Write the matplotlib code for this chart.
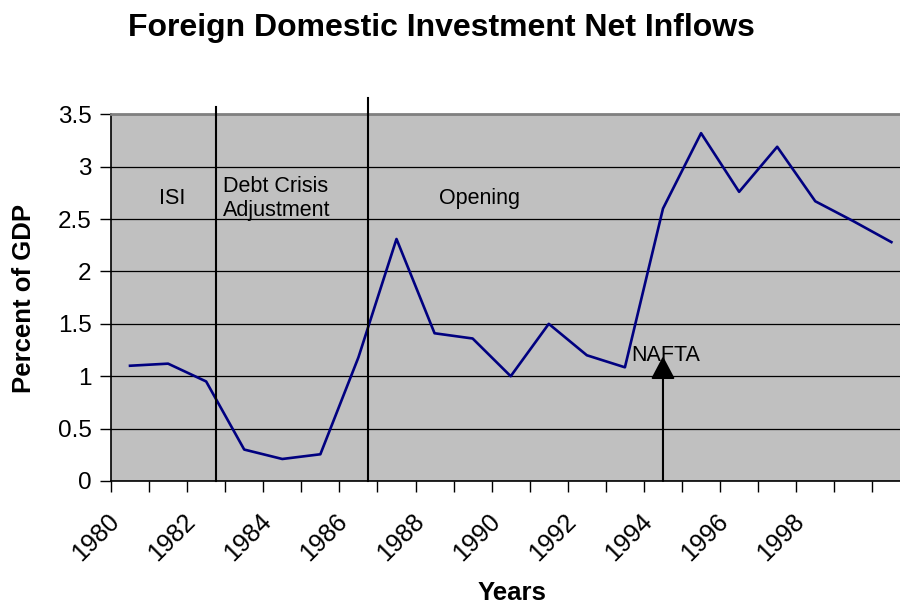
import matplotlib
matplotlib.use("Agg")
import matplotlib.pyplot as plt
from matplotlib import transforms

plt.rcParams['font.family'] = ['Liberation Sans', 'DejaVu Sans']

# Datos (% del PIB)
years = list(range(1980, 2001))
fdi = [1.10, 1.12, 0.95, 0.30, 0.21, 0.255, 1.18, 2.31, 1.41, 1.36,
       1.00, 1.50, 1.20, 1.085, 2.60, 3.32, 2.76, 3.19, 2.67, 2.48, 2.28]
year_labels = [str(y) for y in years[:-1:2]]
y_ticks = [0, 0.5, 1, 1.5, 2, 2.5, 3, 3.5]
y_labels = ['0', '0.5', '1', '1.5', '2', '2.5', '3', '3.5']

# separadores de periodos (posicion en categorias, altura superior)
periods = [(2.26, 3.57), (6.24, 3.66)]
period_text = [(1.12, 2.70, 'ISI', 'center'),
               (2.43, 2.70, 'Debt Crisis\nAdjustment', 'left'),
               (9.18, 2.70, 'Opening', 'center')]
nafta_x, nafta_y = 14, 1.20

fig = plt.figure(figsize=(9, 6.07), dpi=100)
# el area del grafico sigue un poco mas alla del borde derecho (recortado)
ax = fig.add_axes([0.1233, 0.2076, 0.8883, 0.6041])
ax.set_facecolor('#C0C0C0')

x = list(range(len(years)))
ax.plot(x, fdi, color='#000080', lw=1.9, zorder=3)

ax.set_xlim(-0.5, len(years) - 0.5)
ax.set_ylim(0, 3.5)
ax.set_yticks(y_ticks, y_labels)
ax.set_xticks([i - 0.5 for i in range(len(years) + 1)], [])
ax.tick_params(axis='both', direction='out', length=8, width=1, color='black', labelsize=17.5)
ax.tick_params(axis='y', pad=6)
ax.yaxis.grid(True, color='black', lw=0.9)
ax.set_axisbelow(True)

ax.spines['right'].set_visible(False)
ax.spines['top'].set_color('#808080')
ax.spines['top'].set_linewidth(2)
ax.spines['left'].set_linewidth(1.2)
ax.spines['bottom'].set_linewidth(1.2)

# etiquetas del eje x giradas
trans = transforms.blended_transform_factory(ax.transData, ax.transAxes)
for i, lab in zip(x[:-1:2], year_labels):
    ax.text(i - 0.38, -0.1, lab, transform=trans, rotation=45, rotation_mode='anchor',
            ha='right', va='center', fontsize=18)

for px, top in periods:
    ax.plot([px, px], [0, top], color='black', lw=1.5, clip_on=False, zorder=4)

for tx, ty, t, ha in period_text:
    ax.text(tx, ty, t, ha=ha, va='center', fontsize=15.5)

ax.annotate('', xy=(nafta_x, 1.19), xytext=(nafta_x, 0),
            arrowprops=dict(arrowstyle='-|>,head_width=0.37,head_length=0.7',
                            color='black', lw=1.5, shrinkA=0, shrinkB=0,
                            mutation_scale=20), zorder=4)
ax.text(13.17, nafta_y, 'NAFTA', ha='left', va='center', fontsize=15.5, zorder=5)

fig.text(0.491, 0.954, 'Foreign Domestic Investment Net Inflows', ha='center', va='center',
         fontsize=23, fontweight='bold')
fig.text(0.027, 0.509, 'Percent of GDP', rotation=90, ha='center', va='center',
         fontsize=18.5, fontweight='bold')
fig.text(0.569, 0.004, 'Years', ha='center', va='bottom', fontsize=18.5, fontweight='bold')

fig.savefig('out.png', dpi=100)
